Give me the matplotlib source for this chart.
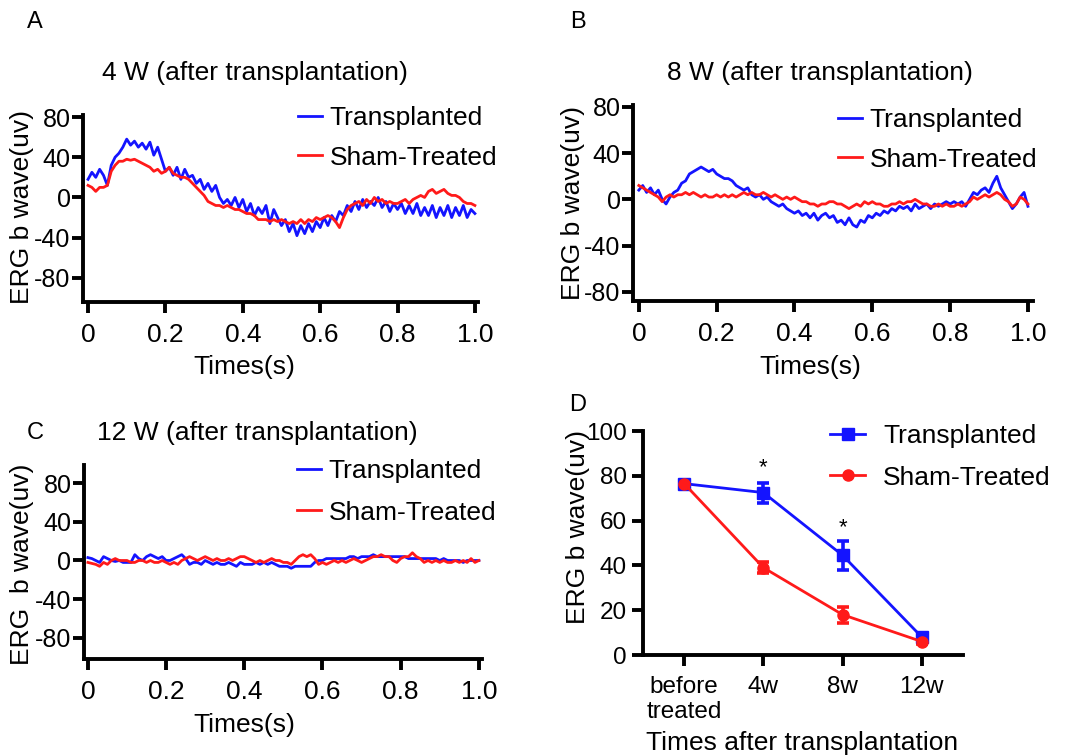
import numpy as np
import matplotlib.pyplot as plt
from matplotlib.lines import Line2D

plt.rcParams['font.family'] = ['Liberation Sans', 'DejaVu Sans']
plt.rcParams['axes.unicode_minus'] = False

W, H = 1079, 756
BLUE = '#1414ff'
RED = '#ff1a1a'

# sampling times of the ERG traces (s)
t = np.arange(101) / 100

# panel A, 4 weeks
a_trans = [18, 25, 20, 28, 22, 12, 32, 40, 44, 50, 58, 52, 56, 50, 54, 48, 55, 42, 50, 38,
           26, 30, 22, 30, 18, 28, 20, 22, 14, 18, 8, 14, 6, 12, 0, -6, -2, -8, 0, -10,
           -2, -14, -6, -18, -10, -16, -8, -26, -12, -20, -28, -22, -34, -26, -38, -28, -36, -26, -34, -24,
           -30, -20, -28, -18, -24, -14, -18, -8, -14, -4, -12, -2, -10, -4, -8, 0, -10, -4, -14, -6,
           -12, -6, -16, -8, -16, -6, -18, -10, -18, -8, -20, -10, -18, -8, -20, -10, -18, -8, -20, -12,
           -16]
a_sham = [12, 10, 6, 10, 10, 12, 26, 32, 36, 36, 38, 37, 38, 36, 34, 32, 30, 26, 28, 24,
          26, 30, 24, 22, 20, 20, 18, 14, 10, 6, 2, -4, -6, -8, -8, -10, -8, -10, -12, -12,
          -14, -16, -16, -18, -22, -22, -22, -24, -22, -24, -22, -24, -26, -24, -26, -22, -26, -22, -24, -20,
          -22, -20, -18, -20, -24, -30, -20, -12, -8, -6, -4, -8, -2, -6, 0, -4, -2, -6, -4, -6,
          -6, -4, -2, -6, -2, 0, 2, 0, 6, 8, 4, 6, 8, 4, 2, 2, 0, -4, -6, -6,
          -8]

# panel B, 8 weeks
b_trans = [8, 12, 6, 10, 4, 8, 0, -4, 2, 6, 8, 14, 16, 22, 24, 26, 28, 26, 24, 26,
           22, 20, 18, 18, 16, 12, 10, 8, 10, 4, 2, 4, 0, 2, -2, -4, -6, -4, -8, -10,
           -12, -10, -14, -12, -16, -12, -18, -14, -12, -16, -14, -20, -18, -22, -16, -22, -24, -18, -20, -14,
           -16, -12, -14, -10, -12, -8, -10, -6, -8, -6, -10, -4, -8, -6, -4, -8, -4, -6, -4, -2,
           -4, -2, -4, -2, -6, 0, 6, 4, 8, 10, 6, 14, 20, 10, 4, -2, -8, -4, 2, 6,
           -6]
b_sham = [12, 10, 8, 6, 4, 2, -2, 2, 4, 2, 4, 4, 6, 4, 6, 4, 2, 4, 2, 2,
          4, 2, 4, 2, 4, 2, 4, 6, 4, 6, 4, 4, 6, 4, 2, 4, 2, 0, 2, 0,
          2, 0, -2, -2, -4, -4, -6, -4, -4, -2, -2, -4, -4, -6, -8, -6, -4, -6, -2, -4,
          -2, -4, -4, -6, -6, -4, -4, -2, -4, -2, -2, 0, -2, -4, -4, -6, -6, -4, -6, -4,
          -6, -6, -4, -6, -4, -2, 2, 0, 2, 4, 2, 4, 6, 4, 0, -2, -6, -4, 2, 0,
          -4]

# panel C, 12 weeks
c_trans = [3, 2, 0, -2, 4, 2, 0, -1, 0, -2, -2, -2, 6, 2, 0, 4, 6, 4, 2, 4,
           0, 0, 2, 4, 6, 2, -4, -2, -2, -4, 0, -2, -4, -2, -4, -4, -2, -4, -6, -2,
           -4, -4, -4, -2, -4, -2, -4, -2, -4, -6, -6, -6, -8, -6, -6, -6, -6, -6, -2, 0,
           0, 2, 2, 2, 2, 2, 2, 4, 4, 2, 4, 4, 4, 6, 4, 4, 4, 4, 4, 4,
           4, 4, 2, 2, 2, 2, 2, 2, 2, 2, 0, 2, 0, 0, 0, 0, -2, 0, 0, 0,
           0]
c_sham = [-2, -3, -4, -6, -2, -4, 0, 2, 0, 0, 0, -2, -2, 0, 0, -2, 0, -2, -2, 0,
          -2, -4, -2, -4, 0, 2, 4, 2, 0, 2, 4, 2, 0, 2, 0, 0, 2, 0, 2, 4,
          4, 2, 0, -2, 0, -2, 0, 2, 0, 0, -2, -2, -4, 0, 4, 6, 4, 6, 2, -4,
          -2, -4, -2, 0, -2, 0, -2, 0, 2, 0, -2, 0, 2, 4, 4, 6, 4, 4, 0, -2,
          2, 4, 4, 8, 4, 2, -2, 0, -2, 0, -2, 0, -2, -2, 0, -2, 0, -2, 2, -2,
          0]

# panel D, b-wave amplitude over time
d_groups = ['before\ntreated', '4w', '8w', '12w']
d_trans = [76.5, 72.5, 44.5, 8]
d_trans_err = [0.8, 4.5, 6.5, 1.2]
d_sham = [76.5, 39, 18, 6]
d_sham_err = [0.8, 2.5, 3.5, 1.0]
d_star = [None, 83.5, 57, None]

FS = 19


def px_axes(x0, y0, x1, y1):
    return fig.add_axes([x0 / W, 1 - y1 / H, (x1 - x0) / W, (y1 - y0) / H])


def ftext(x, y, s, **kw):
    fig.text(x / W, 1 - y / H, s, **kw)


def style(ax, ypad=1.0, labelsize=18):
    for side in ['top', 'right']:
        ax.spines[side].set_visible(False)
    for side in ['left', 'bottom']:
        ax.spines[side].set_linewidth(2.8)
    ax.tick_params(axis='both', width=2.8, length=8, labelsize=labelsize)
    ax.tick_params(axis='x', pad=7)
    ax.tick_params(axis='y', pad=ypad)


def trace_panel(ax, trans, sham, xlim, ylim, leg_xy, ls):
    ax.plot(t, trans, color=BLUE, lw=2.0, label='Transplanted')
    ax.plot(t, sham, color=RED, lw=2.0, label='Sham-Treated')
    ax.set_xlim(*xlim)
    ax.set_ylim(*ylim)
    ax.set_xticks([0, 0.2, 0.4, 0.6, 0.8, 1.0])
    ax.set_xticklabels(['0', '0.2', '0.4', '0.6', '0.8', '1.0'])
    ax.set_yticks([80, 40, 0, -40, -80])
    ax.set_yticklabels(['80', '40', '0', '-40', '-80'])
    style(ax)
    ax.tick_params(axis='x', labelsize=19)
    ax.legend(loc='upper left', bbox_to_anchor=(leg_xy[0] / W, 1 - leg_xy[1] / H),
              bbox_transform=fig.transFigure, frameon=False, fontsize=FS,
              handlelength=0.9, handletextpad=0.3, labelspacing=ls,
              borderpad=0, borderaxespad=0)


fig = plt.figure(figsize=(W / 100, H / 100), dpi=100)

# A
axA = px_axes(83, 115, 478, 302)
trace_panel(axA, a_trans, a_sham, (-0.013, 1.008), (-104, 82), (298, 106), 0.59)
ftext(35, 22, 'A', fontsize=17, ha='center', va='center')
ftext(255, 73, '4 W (after transplantation)', fontsize=FS, ha='center', va='center')
ftext(244, 367, 'Times(s)', fontsize=FS, ha='center', va='center')
ftext(22, 207, 'ERG b wave(uv)', fontsize=FS, ha='center', va='center', rotation=90)

# B
axB = px_axes(633, 105, 1033, 301)
trace_panel(axB, b_trans, b_sham, (-0.015, 1.013), (-88, 81.7), (838, 108), 0.59)
ftext(578, 22, 'B', fontsize=17, ha='center', va='center')
ftext(820, 73, '8 W (after transplantation)', fontsize=FS, ha='center', va='center')
ftext(810, 367, 'Times(s)', fontsize=FS, ha='center', va='center')
ftext(573, 203, 'ERG b wave(uv)', fontsize=FS, ha='center', va='center', rotation=90)

# C
axC = px_axes(84, 465, 482, 659)
trace_panel(axC, c_trans, c_sham, (-0.010, 1.008), (-101.7, 98.6), (297, 459), 0.67)
ftext(35, 433, 'C', fontsize=17, ha='center', va='center')
ftext(257, 433, '12 W (after transplantation)', fontsize=FS, ha='center', va='center')
ftext(244, 725, 'Times(s)', fontsize=FS, ha='center', va='center')
ftext(22, 564, 'ERG  b wave(uv)', fontsize=FS, ha='center', va='center', rotation=90)

# D
axD = px_axes(643, 431, 963, 655)
xd = np.arange(len(d_groups))
axD.errorbar(xd, d_trans, yerr=d_trans_err, fmt='none', ecolor=BLUE,
             elinewidth=2.6, capsize=4.5, capthick=2.6)
axD.errorbar(xd, d_sham, yerr=d_sham_err, fmt='none', ecolor=RED,
             elinewidth=2.6, capsize=4.5, capthick=2.6)
axD.plot(xd, d_trans, color=BLUE, lw=2.0, marker='s', ms=8)
axD.plot(xd, d_sham, color=RED, lw=2.0, marker='o', ms=8)
for xi, ys in zip(xd, d_star):
    if ys is not None:
        axD.text(xi, ys, '*', fontsize=16, ha='center', va='center')
axD.set_xlim(-0.52, 3.52)
axD.set_ylim(0, 100)
axD.set_yticks([0, 20, 40, 60, 80, 100])
axD.set_xticks(xd)
axD.set_xticklabels(d_groups)
style(axD, ypad=3.5, labelsize=17.5)
handles = [Line2D([], [], color=BLUE, lw=2.0, marker='s', ms=8),
           Line2D([], [], color=RED, lw=2.0, marker='o', ms=8)]
axD.legend(handles, ['Transplanted', 'Sham-Treated'], loc='upper left',
           bbox_to_anchor=(830 / W, 1 - 424 / H),
           bbox_transform=fig.transFigure, frameon=False, fontsize=FS,
           handlelength=1.33, handletextpad=0.68, labelspacing=0.67,
           borderpad=0, borderaxespad=0)
ftext(578, 405, 'D', fontsize=17, ha='center', va='center')
ftext(802, 743, 'Times after transplantation', fontsize=FS, ha='center', va='center')
ftext(578, 527, 'ERG b wave(uv)', fontsize=FS, ha='center', va='center', rotation=90)

fig.savefig('out.png', dpi=100)
